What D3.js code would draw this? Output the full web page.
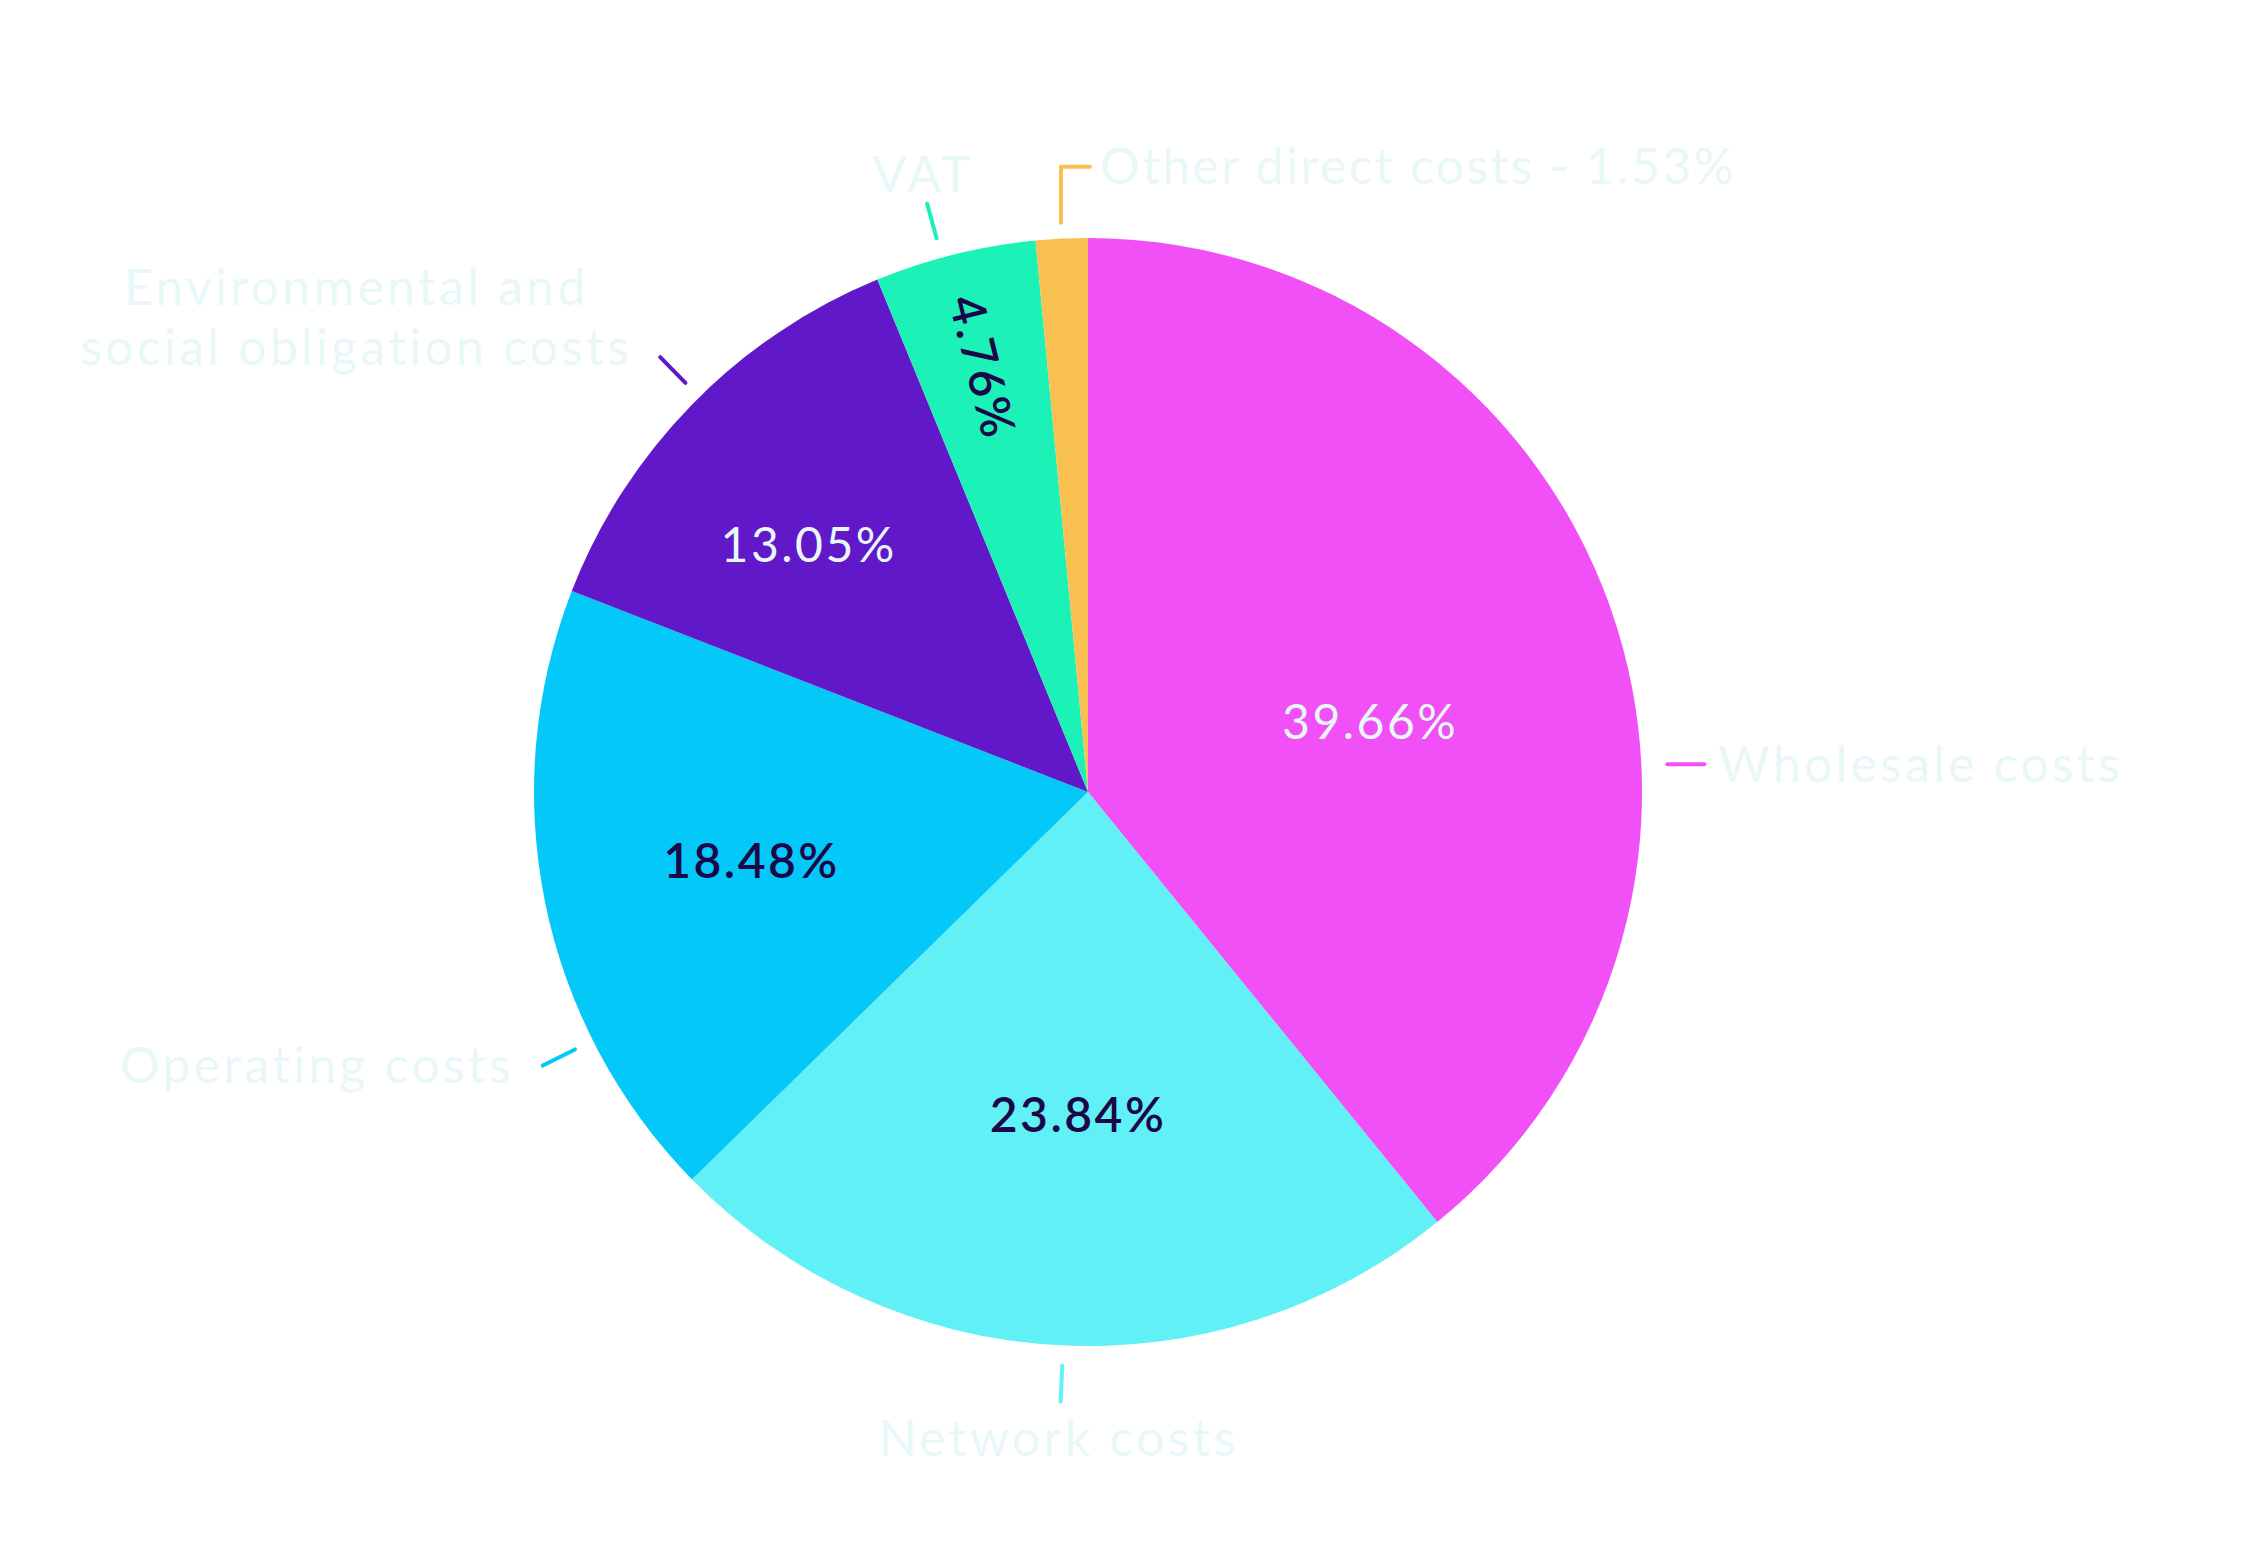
<!DOCTYPE html>
<html>
<head>
<meta charset="utf-8">
<script src="https://cdn.jsdelivr.net/npm/d3@7"></script>
<style>
  body { margin: 0; background: #fff; }
  text { font-family: Lato, "Open Sans", sans-serif; }
</style>
</head>
<body>
<svg class="pie"></svg>
<script>
// data
var categories = ["Wholesale costs", "Network costs", "Operating costs",
                  "Environmental and social obligation costs", "VAT", "Other direct costs"];
var shares = [39.66, 23.84, 18.48, 13.05, 4.76, 1.53];
var colours = ["#f050f5", "#62f0f7", "#04c8f8", "#6118c8", "#1cf2b8", "#f8c050"];
var calloutLines = [["Wholesale costs"], ["Network costs"], ["Operating costs"],
                    ["Environmental and", "social obligation costs"], ["VAT"],
                    ["Other direct costs - 1.53%"]];

// layout (not data)
var width = 2267, height = 1562;
var cx = 1088, cy = 792, radius = 554;
var innerLabelR = [0.525, 0.583, 0.62, 0.673, 0.79, null]; // fraction of radius
var innerShift = [5.5, -1.5, 0, -3, 0, 0];                  // degrees
var innerLabelDark = [false, true, true, false, true, true];
var calloutShift = [16.8, -0.7, -15.1, 1, -1.4, 0];         // degrees
var calloutSide = ["right", "below", "left", "block", "above", "elbow"];
var calloutSpacing = [3.2, 3.2, 3.2, 3.2, 3.2, 2.3];        // letter-spacing px

var pale = "#e8f7f8", dark = "#1b0848";

var svg = d3.select(".pie").attr("width", width).attr("height", height);
var g = svg.append("g").attr("transform", "translate(" + cx + "," + cy + ")");

var pie = d3.pie().sort(null).value(function(d) { return d; });
var arcs = pie(shares);
var arc = d3.arc().innerRadius(0).outerRadius(radius);

g.selectAll("path.slice").data(arcs).enter().append("path")
    .attr("class", "slice")
    .attr("d", arc)
    .attr("fill", function(d, i) { return colours[i]; });

// percentage labels inside the slices
function mid(d) { return (d.startAngle + d.endAngle) / 2; }
var deg = Math.PI / 180;

g.selectAll("text.pct").data(arcs.filter(function(d, i) { return innerLabelR[i] != null; }))
  .enter().append("text")
    .attr("class", "pct")
    .attr("transform", function(d) {
        var i = d.index;
        var p = d3.pointRadial(mid(d) + innerShift[i] * deg, radius * innerLabelR[i]);
        var t = "translate(" + p[0] + "," + p[1] + ")";
        if (categories[i] == "VAT") t += " rotate(" + (mid(d) / deg - 270) + ")";
        return t;
    })
    .attr("text-anchor", "middle")
    .attr("dy", "0.36em")
    .style("font-size", "48px")
    .style("letter-spacing", "2.5px")
    .style("font-weight", function(d) { return innerLabelDark[d.index] ? 600 : 400; })
    .attr("fill", function(d) { return innerLabelDark[d.index] ? dark : pale; })
    .text(function(d) { return shares[d.index].toFixed(2) + "%"; });

// callouts
var fs = 50;
arcs.forEach(function(d, i) {
    var a = mid(d) + calloutShift[i] * deg;
    var p1 = d3.pointRadial(a, 574), p2 = d3.pointRadial(a, 610);
    var side = calloutSide[i];
    var line = g.append("path")
        .attr("fill", "none")
        .attr("stroke", colours[i])
        .attr("stroke-width", 4)
        .attr("stroke-linecap", "round");
    var txt = g.append("text").attr("fill", pale)
        .style("font-size", fs + "px")
        .style("letter-spacing", calloutSpacing[i] + "px");

    if (side == "right") {
        p1 = d3.pointRadial(a, 580);
        p2 = [p1[0] + 37, p1[1]];
        line.attr("d", d3.line()([p1, p2]));
        txt.attr("x", p2[0] + 14).attr("y", p2[1]).attr("dy", "0.35em")
           .attr("text-anchor", "start").text(calloutLines[i][0]);
    } else if (side == "below") {
        line.attr("d", d3.line()([p1, p2]));
        txt.attr("x", p2[0] - 2).attr("y", p2[1] + 55)
           .attr("text-anchor", "middle").text(calloutLines[i][0]);
    } else if (side == "left") {
        line.attr("d", d3.line()([p1, p2]));
        txt.attr("x", p2[0] - 29).attr("y", p2[1]).attr("dy", "0.35em")
           .attr("text-anchor", "end").text(calloutLines[i][0]);
    } else if (side == "block") {
        line.attr("d", d3.line()([p1, p2]));
        var n = calloutLines[i].length;
        txt.selectAll("tspan").data(calloutLines[i]).enter().append("tspan")
           .attr("text-anchor", "middle")
           .attr("y", function(s, k) { return p2[1] + 8 - (n - 1 - k) * 60; })
           .text(function(s) { return s; });
        var w = 0;
        txt.selectAll("tspan").each(function() { w = Math.max(w, this.getComputedTextLength()); });
        txt.selectAll("tspan").attr("x", p2[0] - 28 - w / 2);
    } else if (side == "above") {
        line.attr("d", d3.line()([p1, p2]));
        txt.attr("x", p2[0] - 4).attr("y", p2[1] - 12)
           .attr("text-anchor", "middle").text(calloutLines[i][0]);
    } else if (side == "elbow") {
        var q1 = d3.pointRadial(a, 570);
        var q2 = [q1[0], q1[1] - 56], q3 = [q1[0] + 29, q1[1] - 56];
        line.attr("d", d3.line()([q1, q2, q3])).attr("stroke-linejoin", "round");
        txt.attr("x", q3[0] + 10).attr("y", q3[1]).attr("dy", "0.35em")
           .attr("text-anchor", "start").text(calloutLines[i][0]);
    }
});
</script>
</body>
</html>
